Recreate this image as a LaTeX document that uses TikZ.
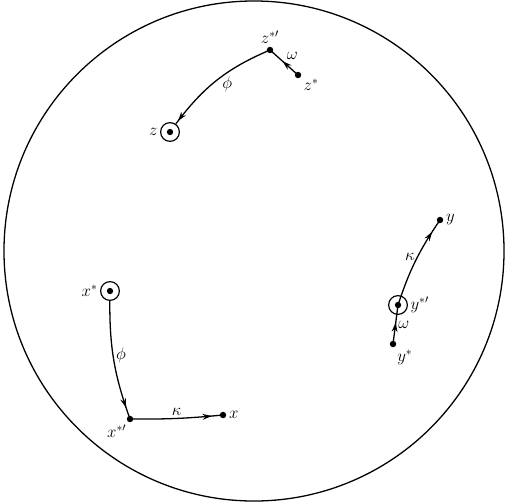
\documentclass[tikz,border=0pt]{standalone}
\usetikzlibrary{decorations.markings,arrows.meta}

\tikzset{
    pt/.style={circle, fill, inner sep=0pt, minimum size=5.5pt},
    ringed/.style={circle, draw, line width=1pt, minimum size=16pt, inner sep=0pt,
        path picture={\fill (path picture bounding box.center) circle (2.7pt);}},
    map/.style={line width=1.1pt, postaction={decorate},
        decoration={markings, mark=at position #1 with {\arrow{Stealth[length=8pt,width=5pt]}}}},
    lbl/.style={font=\Large, inner sep=2pt}
}

\begin{document}
\begin{tikzpicture}[x=0.03cm, y=-0.03cm]
    \useasboundingbox (0,0) rectangle (508,502);
    \draw[line width=1.1pt] (254,251) circle (7.5cm);

    % z orbit
    \node[pt, label={[lbl]above:$z^{*\prime}$}] (zsp) at (270,50) {};
    \node[pt, label={[lbl]-30:$z^{*}$}] (zs) at (298,75) {};
    \node[ringed, label={[lbl]left:$z$}] (z) at (170,132) {};
    \draw[map=0.55] (zs.center) -- node[lbl, above right] {$\omega$} (zsp.center);
    \draw[map=0.97] (zsp.center) to[bend right=15] node[lbl, pos=0.45, below right=-2pt] {$\phi$} (z);

    % y orbit
    \node[pt, label={[lbl]right:$y$}] (y) at (440,220) {};
    \node[ringed, label={[lbl]right:$y^{*\prime}$}] (ysp) at (398,305) {};
    \node[pt, label={[lbl]-60:$y^{*}$}] (ys) at (393,344) {};
    \draw[map=0.55] (ys.center) -- node[lbl, right] {$\omega$} (ysp.center);
    \draw[map=0.85] (ysp.center) to[bend left=8] node[lbl, pos=0.55, left] {$\kappa$} (y.center);

    % x orbit
    \node[ringed, label={[lbl]left:$x^{*}$}] (xs) at (110,291) {};
    \node[pt, label={[lbl]-110:$x^{*\prime}$}] (xsp) at (130,419) {};
    \node[pt, label={[lbl]right:$x$}] (x) at (223,415) {};
    \draw[map=0.9] (xs) to[bend right=10] node[lbl, pos=0.45, right] {$\phi$} (xsp.center);
    \draw[map=0.88] (xsp.center) to[bend right=3] node[lbl, pos=0.5, above] {$\kappa$} (x.center);
\end{tikzpicture}
\end{document}
